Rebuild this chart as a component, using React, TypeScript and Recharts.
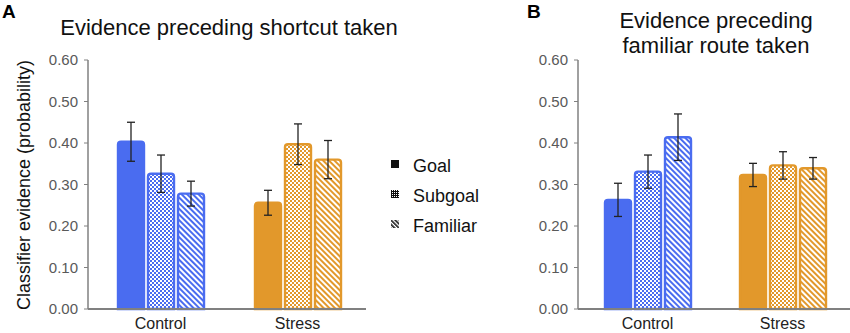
import React from 'react';
import { BarChart, Bar, XAxis, YAxis, ErrorBar } from 'recharts';

const FONT = '"Liberation Sans", Arial, sans-serif';
const BLUE = '#4A6CF0';
const ORANGE = '#E2982B';

const categories = ['Control', 'Stress'];
const yTicks = [0, 0.1, 0.2, 0.3, 0.4, 0.5, 0.6];

// panel A - shortcut taken
const goalA = [0.403, 0.256];
const subgoalA = [0.326, 0.397];
const familiarA = [0.278, 0.36];
const goalErrA = [0.047, 0.03];
const subgoalErrA = [0.045, 0.049];
const familiarErrA = [0.03, 0.046];

// panel B - familiar route taken
const goalB = [0.263, 0.323];
const subgoalB = [0.331, 0.346];
const familiarB = [0.414, 0.339];
const goalErrB = [0.04, 0.028];
const subgoalErrB = [0.04, 0.033];
const familiarErrB = [0.056, 0.026];

const makeRows = (g: number[], s: number[], f: number[], ge: number[], se: number[], fe: number[]) =>
  categories.map((name, i) => ({
    name,
    goal: g[i], subgoal: s[i], familiar: f[i],
    goalErr: ge[i], subgoalErr: se[i], familiarErr: fe[i],
  }));

const rowsA = makeRows(goalA, subgoalA, familiarA, goalErrA, subgoalErrA, familiarErrA);
const rowsB = makeRows(goalB, subgoalB, familiarB, goalErrB, subgoalErrB, familiarErrB);

const Patterns = ({ prefix }: { prefix: string }) => (
  <defs>
    {[['b', BLUE], ['o', ORANGE]].map(([k, c]) => (
      <React.Fragment key={k}>
        <pattern id={`${prefix}-check-${k}`} width="4" height="4" patternUnits="userSpaceOnUse">
          <rect width="4" height="4" fill={c} />
          <rect x="0" y="0" width="2" height="2" fill="#fff" />
          <rect x="2" y="2" width="2" height="2" fill="#fff" />
        </pattern>
        <pattern id={`${prefix}-hatch-${k}`} width="4" height="4" patternUnits="userSpaceOnUse" patternTransform="rotate(-45)">
          <rect width="4" height="4" fill={c} />
          <rect x="0" y="0" width="2" height="4" fill="#fff" />
        </pattern>
      </React.Fragment>
    ))}
  </defs>
);

// bar fill depends on which group (Control blue, Stress orange)
const PatternBar = (kind: string, prefix: string) => (props: any) => {
  const { x, y, width, height, index } = props;
  const k = index === 0 ? 'b' : 'o';
  const color = index === 0 ? BLUE : ORANGE;
  const fill = kind === 'solid' ? color : `url(#${prefix}-${kind}-${k})`;
  const r = 3;
  const h = Math.max(height, 0);
  return (
    <path
      d={`M${x},${y + h} L${x},${y + r} Q${x},${y} ${x + r},${y} L${x + width - r},${y} Q${x + width},${y} ${x + width},${y + r} L${x + width},${y + h} Z`}
      fill={fill}
      stroke={color}
      strokeWidth={2.4}
    />
  );
};

const errProps = { width: 4, strokeWidth: 1.3, stroke: '#222' };

function Panel({ rows, prefix, width, yWidth, right, padLeft }: any) {
  return (
    <BarChart
      width={width}
      height={333}
      data={rows}
      margin={{ top: 60, right, bottom: 0, left: 0 }}
      barSize={26}
      barGap={4}
    >
      <Patterns prefix={prefix} />
      <XAxis
        dataKey="name"
        height={24}
        padding={{ left: padLeft, right: 0 }}
        axisLine={{ stroke: '#808080', strokeWidth: 2 }}
        tickLine={false}
        tickSize={0}
        tickMargin={9}
        tick={{ fill: '#222', fontSize: 16, fontFamily: FONT }}
      />
      <YAxis
        width={yWidth}
        domain={[0, 0.6]}
        ticks={yTicks}
        interval={0}
        tickFormatter={(v: number) => v.toFixed(2)}
        axisLine={{ stroke: '#808080', strokeWidth: 1.5 }}
        tickLine={{ stroke: '#808080' }}
        tickSize={4}
        tickMargin={6}
        tick={{ fill: '#595959', fontSize: 15, fontFamily: FONT }}
      />
      <Bar dataKey="goal" isAnimationActive={false} shape={PatternBar('solid', prefix)}>
        <ErrorBar dataKey="goalErr" {...errProps} />
      </Bar>
      <Bar dataKey="subgoal" isAnimationActive={false} shape={PatternBar('check', prefix)}>
        <ErrorBar dataKey="subgoalErr" {...errProps} />
      </Bar>
      <Bar dataKey="familiar" isAnimationActive={false} shape={PatternBar('hatch', prefix)}>
        <ErrorBar dataKey="familiarErr" {...errProps} />
      </Bar>
    </BarChart>
  );
}

const legendItems = ['Goal', 'Subgoal', 'Familiar'];

export default function App() {
  return (
    <div style={{ position: 'absolute', left: 0, top: 0, width: 850, height: 333, background: '#fff', fontFamily: FONT }}>
      <div style={{ position: 'absolute', left: 0, top: 0 }}>
        <Panel rows={rowsA} prefix="pa" width={430} yWidth={88} right={64} padLeft={4} />
      </div>
      <div style={{ position: 'absolute', left: 430, top: 0 }}>
        <Panel rows={rowsB} prefix="pb" width={420} yWidth={148} right={0} padLeft={2} />
      </div>
      <svg width={850} height={333} style={{ position: 'absolute', left: 0, top: 0, pointerEvents: 'none' }} fontFamily={FONT}>
        <defs>
          <pattern id="lg-check" width="2" height="2" patternUnits="userSpaceOnUse">
            <rect width="2" height="2" fill="#111" />
            <rect x="0" y="0" width="1" height="1" fill="#fff" />
          </pattern>
          <pattern id="lg-hatch" width="3" height="3" patternUnits="userSpaceOnUse" patternTransform="rotate(-45)">
            <rect width="3" height="3" fill="#fff" />
            <rect x="0" y="0" width="1.6" height="3" fill="#111" />
          </pattern>
        </defs>
        <text x={2} y={18} fontSize={19} fontWeight="bold" fill="#000">A</text>
        <text x={229} y={35} fontSize={22} textAnchor="middle" fill="#111">Evidence preceding shortcut taken</text>
        <text x={527} y={18} fontSize={19} fontWeight="bold" fill="#000">B</text>
        <text x={716} y={28} fontSize={22} textAnchor="middle" fill="#111">Evidence preceding</text>
        <text x={716} y={53} fontSize={22} textAnchor="middle" fill="#111">familiar route taken</text>
        <text transform="translate(30,185) rotate(-90)" fontSize={18} textAnchor="middle" fill="#111">
          Classifier evidence (probability)
        </text>
        {legendItems.map((name, i) => (
          <g key={name}>
            <rect
              x={391}
              y={160 + i * 30}
              width={8}
              height={8}
              fill={i === 0 ? '#111' : i === 1 ? 'url(#lg-check)' : 'url(#lg-hatch)'}
            />
            <text x={413} y={172 + i * 30} fontSize={18} fill="#111">{name}</text>
          </g>
        ))}
      </svg>
    </div>
  );
}
